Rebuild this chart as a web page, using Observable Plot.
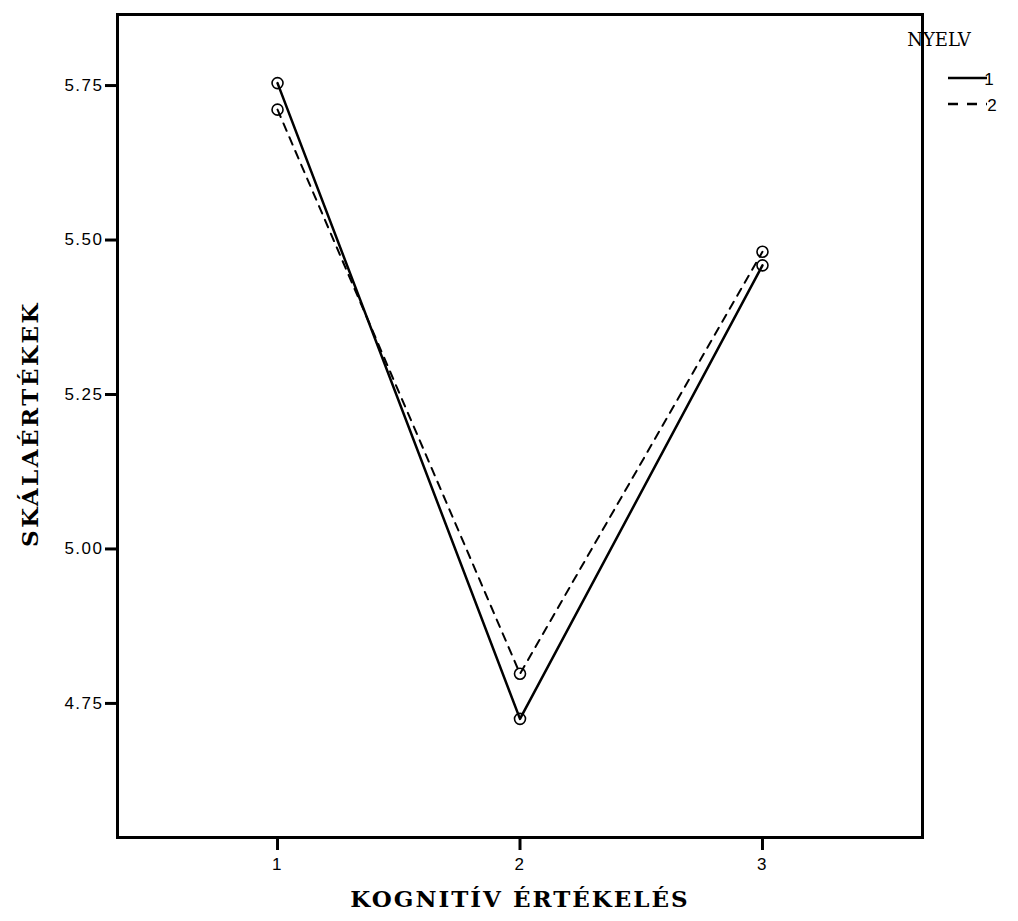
<!DOCTYPE html>
<html>
<head>
<meta charset="utf-8">
<script src="https://cdn.jsdelivr.net/npm/d3@7"></script>
<script src="https://cdn.jsdelivr.net/npm/@observablehq/plot@0.6"></script>
<style>
  html, body { margin: 0; padding: 0; background: #fff; }
  #chart svg { display: block; }
</style>
</head>
<body>
<div id="chart"></div>
<script>
// Categories on the x axis (KOGNITÍV ÉRTÉKELÉS)
const categories = [1, 2, 3];
// Series: NYELV = 1 (solid) and NYELV = 2 (dashed)
const nyelv1 = [5.754, 4.725, 5.459];
const nyelv2 = [5.711, 4.798, 5.481];
const yTicks = [4.75, 5.00, 5.25, 5.50, 5.75];
const seriesNames = ["1", "2"];

const data = [];
categories.forEach((c, i) => {
  data.push({x: c, y: nyelv1[i], s: seriesNames[0]});
  data.push({x: c, y: nyelv2[i], s: seriesNames[1]});
});
const d1 = data.filter(d => d.s === "1");
const d2 = data.filter(d => d.s === "2");

const W = 1018, H = 921;
const tickFont = "Liberation Sans, Arial, sans-serif";

const chart = Plot.plot({
  width: W,
  height: H,
  marginLeft: 117,
  marginRight: 96,
  marginTop: 14,
  marginBottom: 84,
  style: {fontFamily: tickFont, color: "#000", background: "#fff"},
  x: {domain: [0.34, 3.66], ticks: categories, label: null},
  y: {domain: [4.533, 5.865], ticks: yTicks, label: null},
  marks: [
    Plot.axisX({ticks: categories, tickSize: 13, tickPadding: 7, strokeWidth: 3, tickFormat: d => String(d), label: null}),
    Plot.axisY({ticks: yTicks, tickSize: 12, tickPadding: 2, strokeWidth: 3, tickFormat: d3.format(".2f"), label: null}),
    Plot.line(d1, {x: "x", y: "y", stroke: "#000", strokeWidth: 2.5}),
    Plot.line(d2, {x: "x", y: "y", stroke: "#000", strokeWidth: 2, strokeDasharray: "8,7"}),
    Plot.dot(data, {x: "x", y: "y", r: 5.5, stroke: "#000", strokeWidth: 1.6, fill: "none"}),
    Plot.frame({stroke: "#000", strokeWidth: 3})
  ]
});

const svg = d3.select(chart);
// Enlarge tick labels
svg.selectAll('g[aria-label*="tick label"] text, g[aria-label*="tick label"]')
  .style("font-size", "17px")
  .style("letter-spacing", "1.5px");

// Axis titles
svg.append("text")
  .attr("x", 520).attr("y", 907)
  .attr("text-anchor", "middle")
  .attr("font-family", "DejaVu Serif, serif")
  .attr("font-weight", "bold")
  .attr("font-size", 23)
  .attr("letter-spacing", 2)
  .text("KOGNITÍV ÉRTÉKELÉS");
svg.append("text")
  .attr("transform", "translate(38,424) rotate(-90)")
  .attr("text-anchor", "middle")
  .attr("font-family", "DejaVu Serif, serif")
  .attr("font-weight", "bold")
  .attr("font-size", 23)
  .attr("letter-spacing", 2.5)
  .text("SKÁLAÉRTÉKEK");
// Legend
const lg = svg.append("g");
lg.append("text").attr("x", 939).attr("y", 46)
  .attr("font-family", "DejaVu Serif, serif").attr("font-size", 18)
  .text("NYELV");
lg.append("line").attr("x1", 948).attr("x2", 987).attr("y1", 78).attr("y2", 78)
  .attr("stroke", "#000").attr("stroke-width", 2.5);
lg.append("text").attr("x", 989).attr("y", 85).attr("font-family", tickFont).attr("font-size", 17).text(seriesNames[0]);
lg.append("line").attr("x1", 948).attr("x2", 987).attr("y1", 104).attr("y2", 104)
  .attr("stroke", "#000").attr("stroke-width", 2.5).attr("stroke-dasharray", "10,9");
lg.append("text").attr("x", 992).attr("y", 111).attr("font-family", tickFont).attr("font-size", 17).text(seriesNames[1]);

document.getElementById("chart").appendChild(chart);
</script>
</body>
</html>
